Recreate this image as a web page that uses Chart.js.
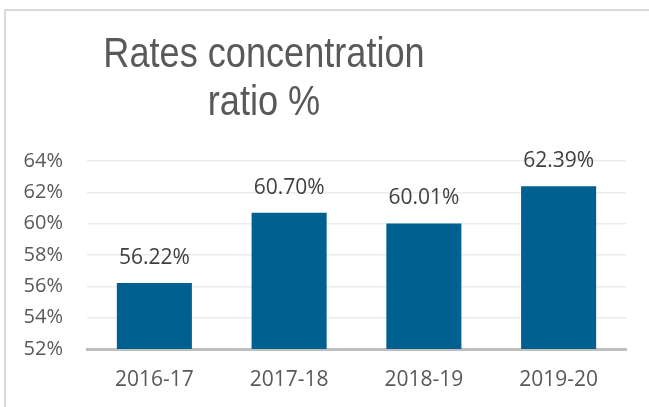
<!DOCTYPE html>
<html>
<head>
<meta charset="utf-8">
<script src="https://cdn.jsdelivr.net/npm/chart.js@4"></script>
<style>
  html, body { margin: 0; padding: 0; background: #fff; }
  #wrap { position: relative; width: 649px; height: 407px; overflow: hidden; }
  #frame {
    position: absolute; left: 4px; top: 9px; width: 700px; height: 500px;
    border-left: 2px solid #d9d9d9; border-top: 2px solid #d9d9d9;
  }
  #chart { position: absolute; left: 0; top: 0; }
</style>
</head>
<body>
<div id="wrap">
  <div id="frame"></div>
  <canvas id="chart" width="649" height="407"></canvas>
</div>
<script>
const years = ["2016-17", "2017-18", "2018-19", "2019-20"];
const ratios = [56.22, 60.70, 60.01, 62.39];
const yMin = 52;
const yMax = 64;
const yStep = 2;

// etiquetas em cima das barras
const valueLabels = {
  id: "valueLabels",
  afterDatasetsDraw(chart) {
    const ctx = chart.ctx;
    const meta = chart.getDatasetMeta(0);
    ctx.save();
    ctx.font = "21px 'Open Sans', sans-serif";
    ctx.fillStyle = "#404040";
    ctx.textAlign = "center";
    ctx.textBaseline = "middle";
    meta.data.forEach((bar, i) => {
      ctx.fillText(ratios[i].toFixed(2) + "%", bar.x, bar.y - 25);
    });
    ctx.restore();
  }
};

// t칤tulo deslocado para a esquerda e mais estreito, como no original
const shiftTitle = {
  id: "shiftTitle",
  afterLayout(chart) {
    const tb = chart.titleBlock;
    if (!tb) return;
    tb.right -= 120;
    if (!tb._narrow) {
      const orig = tb.draw.bind(tb);
      tb.draw = function () {
        const ctx = chart.ctx;
        const cx = (tb.left + tb.right) / 2;
        ctx.save();
        ctx.translate(cx, 0);
        ctx.scale(0.86, 1);
        ctx.translate(-cx, 0);
        orig();
        ctx.restore();
      };
      tb._narrow = true;
    }
  }
};

new Chart(document.getElementById("chart"), {
  type: "bar",
  data: {
    labels: years,
    datasets: [{
      data: ratios,
      backgroundColor: "#00608f",
      borderWidth: 0,
      barPercentage: 0.557,
      categoryPercentage: 1
    }]
  },
  options: {
    responsive: false,
    animation: false,
    devicePixelRatio: 1,
    layout: { padding: { left: 22, right: 23, top: 0, bottom: 15 } },
    plugins: {
      legend: { display: false },
      tooltip: { enabled: false },
      title: {
        display: true,
        text: ["Rates concentration", "ratio %"],
        color: "#595959",
        font: { family: "'Liberation Sans', Arial, sans-serif", size: 42, weight: "normal", lineHeight: 48 / 42 },
        padding: { top: 31, bottom: 34 }
      }
    },
    scales: {
      x: {
        z: 1,
        grid: { display: false, drawTicks: false },
        border: { display: true, color: "#bfbfbf", width: 3 },
        ticks: { color: "#595959", font: { family: "'Open Sans', sans-serif", size: 21 }, padding: 18 },
        afterFit(scale) { scale.height = 43; }
      },
      y: {
        min: yMin,
        max: yMax,
        grid: { color: "#ececec", lineWidth: 1.5, drawTicks: false },
        border: { display: false },
        ticks: {
          stepSize: yStep,
          color: "#595959",
          font: { family: "'Open Sans', sans-serif", size: 20 },
          padding: 24,
          callback: v => v + "%"
        },
        afterFit(scale) { scale.width = 65; }
      }
    }
  },
  plugins: [valueLabels, shiftTitle]
});
</script>
</body>
</html>
